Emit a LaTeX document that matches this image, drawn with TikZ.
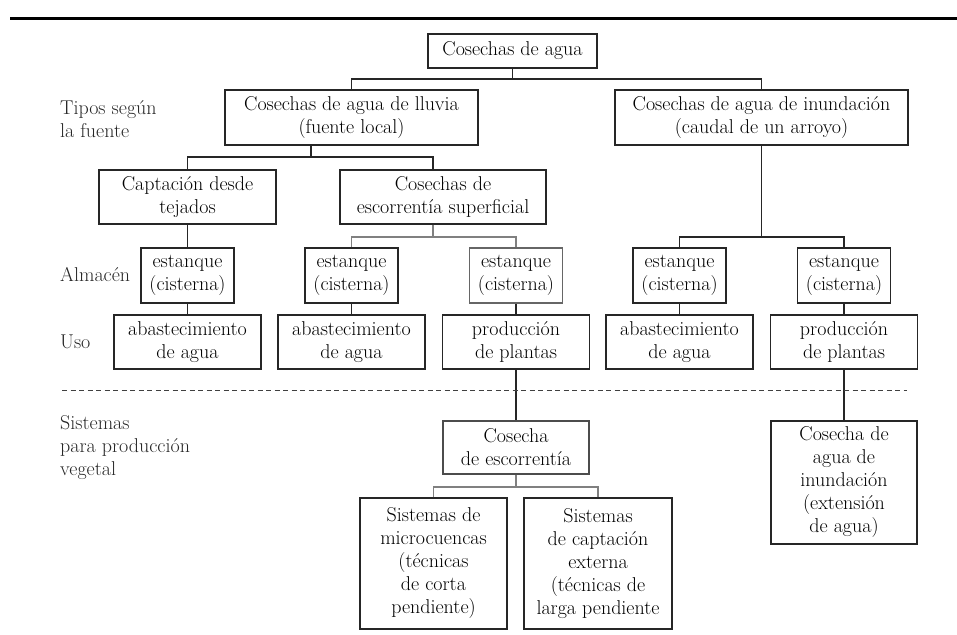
\documentclass[tikz,border=0pt]{standalone}
\usepackage{fontspec}
\usetikzlibrary{calc}
\begin{document}
\begin{tikzpicture}[x=1pt,y=-1pt,
  every node/.style={font=\fontsize{20}{23}\selectfont},
  box/.style={draw=black!85,line width=1.3pt,rectangle,inner sep=0pt,align=center},
  lbl/.style={inner sep=0pt,align=left,anchor=west,text=black!85},
  conn/.style={draw=black!85,line width=1.2pt},
  lightconn/.style={draw=black!50,line width=1.2pt}]
\useasboundingbox (0,0) rectangle (957,634);
\draw[line width=3.5pt] (10,18.5) -- (957,18.5);
% level boxes
\node[box,minimum width=169,minimum height=34] (b1) at (512.5,51) {Cosechas de agua};
\node[box,minimum width=253,minimum height=55] (b2) at (351.5,117.5) {Cosechas de agua de lluvia\\(fuente local)};
\node[box,minimum width=293,minimum height=55] (b3) at (761.5,117.5) {Cosechas de agua de inundación\\(caudal de un arroyo)};
\node[box,minimum width=177,minimum height=54] (b4) at (187.5,197) {Captación desde\\tejados};
\node[box,minimum width=206,minimum height=54] (b5) at (443,197) {Cosechas de\\escorrentía superficial};
% storage
\node[box,minimum width=93,minimum height=55] (e1) at (187.5,275.5) {estanque\\(cisterna)};
\node[box,minimum width=93,minimum height=55] (e2) at (351.5,275.5) {estanque\\(cisterna)};
\node[box,draw=black!60,minimum width=93,minimum height=55] (e3) at (516,275.5) {estanque\\(cisterna)};
\node[box,minimum width=93,minimum height=55] (e4) at (679.5,275.5) {estanque\\(cisterna)};
\node[box,minimum width=93,minimum height=55] (e5) at (844,275.5) {estanque\\(cisterna)};
% use
\node[box,minimum width=147,minimum height=54] (u1) at (187.5,342) {abastecimiento\\de agua};
\node[box,minimum width=147,minimum height=54] (u2) at (351.5,342) {abastecimiento\\de agua};
\node[box,minimum width=147,minimum height=54] (u3) at (516,342) {producción\\de plantas};
\node[box,minimum width=147,minimum height=54] (u4) at (679.5,342) {abastecimiento\\de agua};
\node[box,minimum width=147,minimum height=54] (u5) at (844,342) {producción\\de plantas};
% systems
\node[box,draw=black!70,minimum width=146,minimum height=53] (c1) at (516,447.5) {Cosecha\\de escorrentía};
\node[box,minimum width=147,minimum height=131] (s1) at (433.5,563.5) {Sistemas de\\microcuencas\\(técnicas\\de corta\\pendiente)};
\node[box,minimum width=148,minimum height=131] (s2) at (598,563.5) {Sistemas\\de captación\\externa\\(técnicas de\\larga pendiente};
\node[box,minimum width=146,minimum height=123] (r1) at (844,482.5) {Cosecha de\\agua de\\inundación\\(extensión\\de agua)};
% side labels
\node[lbl] (l1) at (60,119) {Tipos según\\la fuente};
\node[lbl] (l2) at (60,275) {Almacén};
\node[lbl] (l3) at (60,342) {Uso};
\node[lbl] (l4) at (60,448) {Sistemas\\para producción\\vegetal};
% junctions
\coordinate (j1) at (512.5,79);
\coordinate (j2) at (311,157);
\coordinate (j3) at (433,237);
\coordinate (j4) at (761.5,237);
\coordinate (j5) at (516,487);
\coordinate (dl) at (62,390);
\coordinate (dr) at (907,390);
% connectors
\draw[conn] (b1.south) -- (j1);
\draw[conn] (b2.north) |- (j1);
\draw[conn] (b3.north) |- (j1);
\draw[conn] (j2 |- b2.south) -- (j2);
\draw[conn] (b4.north) |- (j2);
\draw[conn] ($(b5.north)+(-10,0)$) |- (j2);
\draw[conn] (b4.south) -- (e1.north);
\draw[lightconn] ($(b5.south)+(-10,0)$) -- (j3);
\draw[lightconn] (e2.north) |- (j3);
\draw[lightconn] (e3.north) |- (j3);
\draw[conn] (b3.south) -- (j4);
\draw[conn] (e4.north) |- (j4);
\draw[conn] (e5.north) |- (j4);
\draw[conn] (e1.south) -- (u1.north);
\draw[conn] (e2.south) -- (u2.north);
\draw[conn] (e3.south) -- (u3.north);
\draw[conn] (e4.south) -- (u4.north);
\draw[conn] (e5.south) -- (u5.north);
\draw[conn] (u3.south) -- (c1.north);
\draw[lightconn] (c1.south) -- (j5);
\draw[lightconn] (s1.north) |- (j5);
\draw[lightconn] (s2.north) |- (j5);
\draw[conn] (u5.south) -- (r1.north);
\draw[draw=black!75,line width=1pt,dash pattern=on 5pt off 3.5pt] (dl) -- (dr);
\end{tikzpicture}
\end{document}
